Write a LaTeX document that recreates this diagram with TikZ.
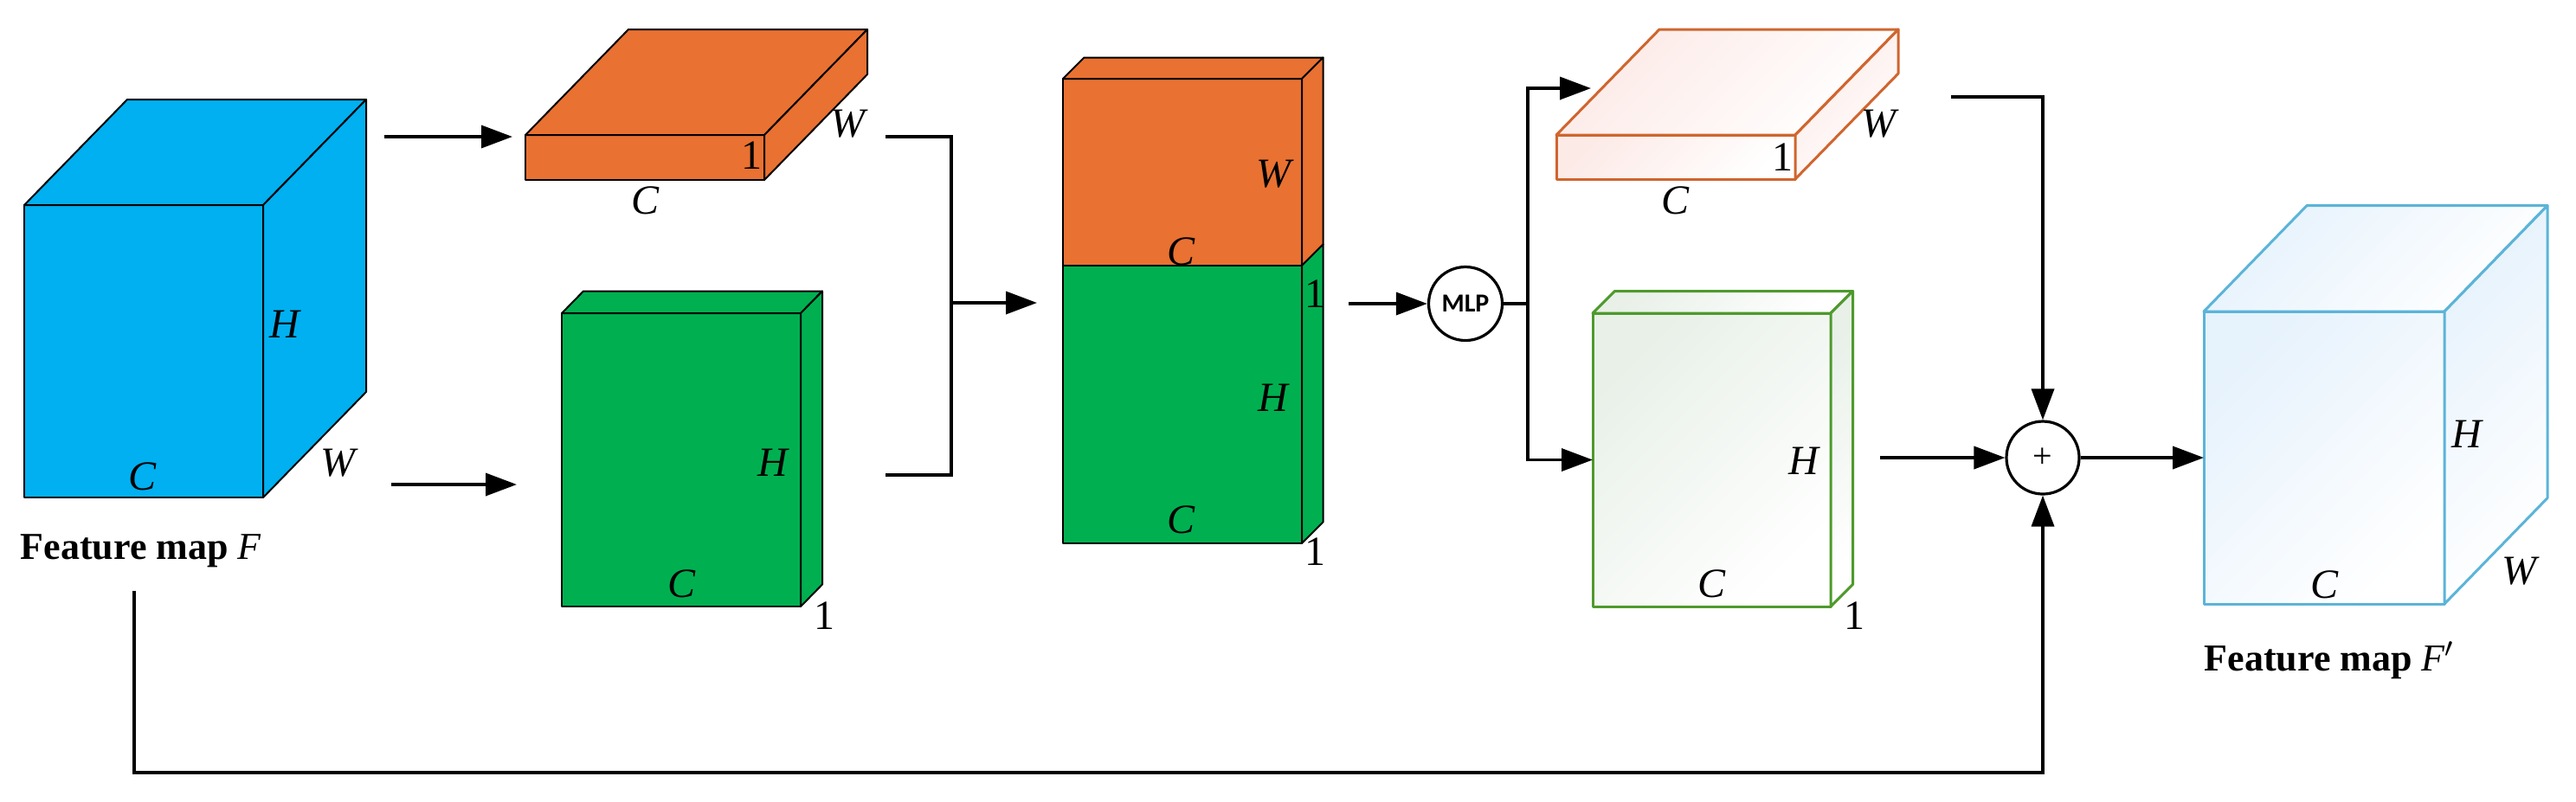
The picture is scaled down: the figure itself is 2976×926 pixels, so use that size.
\documentclass[tikz,border=0pt]{standalone}
\usepackage{fontspec}
\setmainfont{Liberation Serif}
\newfontfamily\mlpfont{Carlito}
\usetikzlibrary{arrows.meta,calc}
\definecolor{cblue}{HTML}{00B0F0}
\definecolor{corange}{HTML}{E97132}
\definecolor{cgreen}{HTML}{00B050}
\definecolor{lorange}{HTML}{D0652E}
\definecolor{lgreen}{HTML}{4E9A2C}
\definecolor{lblue}{HTML}{5BB4D8}
\definecolor{forange}{HTML}{FCEAE7}
\definecolor{fgreen}{HTML}{E8F0E8}
\definecolor{fblue}{HTML}{E6F2FC}
\newcommand{\boxfaces}[4]{%
  \path[#4] (#1.north west) -- ++(#2,#3) -- ($(#1.north east)+(#2,#3)$) -- (#1.north east) -- cycle;
  \path[#4] (#1.north east) -- ++(#2,#3) -- ($(#1.south east)+(#2,#3)$) -- (#1.south east) -- cycle;
}
\begin{document}
\begin{tikzpicture}[x=0.25pt,y=-0.25pt,
  frontface/.style={outer sep=0pt, inner sep=0pt, anchor=north west},
  solidface/.style={draw=black, line width=0.5pt, line join=round},
  lightO/.style={draw=lorange, line width=0.75pt, line join=round, top color=forange, bottom color=white, shading angle=45},
  lightG/.style={draw=lgreen, line width=0.75pt, line join=round, top color=fgreen, bottom color=white, shading angle=45},
  lightB/.style={draw=lblue, line width=0.75pt, line join=round, top color=fblue, bottom color=white, shading angle=45},
  conn/.style={line width=0.9pt, draw=black},
  arr/.style={conn, -{Triangle[length=9pt,width=6.5pt]}},
  lab/.style={inner sep=0pt, font=\fontsize{12}{12}\selectfont\itshape},
  num/.style={inner sep=0pt, font=\fontsize{12}{12}\selectfont},
  caption/.style={inner sep=0pt, anchor=west, font=\fontsize{11}{11}\selectfont\bfseries},
]
\useasboundingbox (0,0) rectangle (2976,926);

% input cube F
\node[frontface, solidface, fill=cblue, minimum width=69pt, minimum height=84.5pt] (F) at (28,237) {};
\boxfaces{F}{119}{-122}{solidface, fill=cblue}
\node[lab] (F-H) at (329,375) {H};
\node[lab] (F-C) at (165,551) {C};
\node[lab] (F-W) at (390,535) {W};
\node[caption] (F-cap) at (23,637) {Feature map {\mdseries\itshape F}};

% orange slab
\node[frontface, solidface, fill=corange, minimum width=69pt, minimum height=13pt] (A) at (607,156) {};
\boxfaces{A}{119}{-122}{solidface, fill=corange}
\node[num] (A-1) at (868,180) {1};
\node[lab] (A-C) at (745,232) {C};
\node[lab] (A-W) at (979,143) {W};

% green box
\node[frontface, solidface, fill=cgreen, minimum width=69pt, minimum height=84.75pt] (B) at (649,362) {};
\boxfaces{B}{25}{-25.5}{solidface, fill=cgreen}
\node[lab] (B-H) at (893,535) {H};
\node[lab] (B-C) at (787,675) {C};
\node[num] (B-1) at (952,712) {1};

% concatenated stack
\node[frontface, solidface, fill=corange, minimum width=69pt, minimum height=54pt] (SO) at (1228,91) {};
\node[frontface, solidface, fill=cgreen, minimum width=69pt, minimum height=80.25pt] (SG) at (1228,307) {};
\boxfaces{SO}{24.5}{-24.5}{solidface, fill=corange}
\path[solidface, fill=cgreen] (SG.north east) -- ++(24.5,-24.5) -- ($(SG.south east)+(24.5,-24.5)$) -- (SG.south east) -- cycle;
\node[lab] (S-W) at (1471,201) {W};
\node[lab] (S-C1) at (1364,291) {C};
\node[num] (S-11) at (1519,340) {1};
\node[lab] (S-H) at (1471,460) {H};
\node[lab] (S-C2) at (1364,601) {C};
\node[num] (S-12) at (1519,638) {1};

% MLP
\node[circle, draw, line width=0.8pt, minimum size=21.25pt, inner sep=0pt] (mlp) at (1693,351) {\mlpfont\bfseries\fontsize{7.5}{7.5}\selectfont MLP};

% light orange slab
\node[frontface, lightO, minimum width=69pt, minimum height=12.75pt] (LA) at (1798,156) {};
\boxfaces{LA}{119}{-122}{lightO}
\node[num] (LA-1) at (2059,182) {1};
\node[lab] (LA-C) at (1935,232) {C};
\node[lab] (LA-W) at (2170,143) {W};

% light green box
\node[frontface, lightG, minimum width=68.75pt, minimum height=84.75pt] (LG) at (1840,362) {};
\boxfaces{LG}{25.5}{-25.5}{lightG}
\node[lab] (LG-H) at (2084,533) {H};
\node[lab] (LG-C) at (1977,675) {C};
\node[num] (LG-1) at (2142,712) {1};

% plus
\node[circle, draw, line width=0.8pt, minimum size=21pt, inner sep=0pt] (plus) at (2360,529) {\fontsize{10}{10}\selectfont +};

% output cube
\node[frontface, lightB, minimum width=69.5pt, minimum height=84.5pt] (FB) at (2546,360) {};
\boxfaces{FB}{119}{-122.4}{lightB}
\node[lab] (FB-H) at (2850,502) {H};
\node[lab] (FB-C) at (2685,676) {C};
\node[lab] (FB-W) at (2910,660) {W};
\node[caption] (FB-cap) at (2546,763) {Feature map {\mdseries\itshape F}$'$};

% connector points
\coordinate (a1s) at (444,158);
\coordinate (a1e) at (592,158);
\coordinate (a2s) at (452,560);
\coordinate (a2e) at (597,560);
\coordinate (oo) at (1023,158);
\coordinate (go) at (1023,549);
\coordinate (jn) at (1099,350);
\coordinate (sin) at (1198,350);
\coordinate (sout) at (1558,351);
\coordinate (br) at (1765,351);
\coordinate (latip) at (1838,102);
\coordinate (laout) at (2254,112);
\coordinate (lgout) at (2172,529);
\coordinate (fb1) at (155,683);
\coordinate (fb2) at (155,893);

% connectors
\draw[arr] (a1s) -- (a1e);
\draw[arr] (a2s) -- (a2e);
\draw[conn] (oo) -| (jn) |- (go);
\draw[arr] (jn) -- (sin);
\draw[arr] (sout) -- (mlp.west);
\draw[conn] (mlp.east) -- (br);
\draw[arr] (br) |- (latip);
\draw[arr] (br) |- (LG.west);
\draw[arr] (laout) -| (plus.north);
\draw[arr] (lgout) -- (plus.west);
\draw[arr] (plus.east) -- (FB.west);
\draw[arr] (fb1) -- (fb2) -| (plus.south);
\end{tikzpicture}
\end{document}
